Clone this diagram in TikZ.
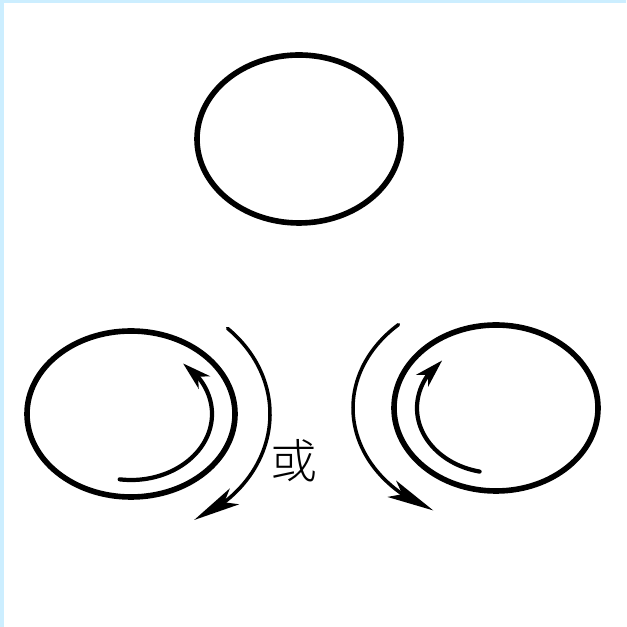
\documentclass[tikz,border=0pt]{standalone}
\usepackage{fontspec}
\newfontfamily\cjk{Noto Sans CJK SC Light}
\usetikzlibrary{arrows.meta,bending}
\definecolor{framecol}{RGB}{204,238,255}
\begin{document}
\begin{tikzpicture}[x=0.03cm, y=0.03cm, line join = round, line cap = round]
	\tikzset{ring/.style={line width=4.8pt},
		spin/.style={line width=3.6pt,-{Stealth[length=8.5mm,width=5mm,inset=2.5mm]}},
		swing/.style={line width=3pt,-{Stealth[length=14mm,width=5.5mm,inset=3.5mm]}}}
	\useasboundingbox (0,0) rectangle (626,627);
	\fill[framecol] (0,0) rectangle (3.5,627);
	\fill[framecol] (0,623.5) rectangle (626,627);
	\path (299,488) coordinate (T)
	(131,213) coordinate (L)
	(496,219) coordinate (R)
	;
	\draw[ring] (T) ellipse [x radius=102, y radius=84];
	\draw[ring] (L) ellipse [x radius=104, y radius=83];
	\draw[ring] (R) ellipse [x radius=102, y radius=83];
	% left: turning round its own centre, or round the outside
	\draw[spin] (L) ++(-98:81 and 66) arc [start angle=-98, end angle=50, x radius=81, y radius=66];
	\draw[swing] (L) ++(46:139 and 119) arc [start angle=46, end angle=-63, x radius=139, y radius=119];
	% right: the same, the other way round
	\draw[spin] (R) ++(258:79 and 65) arc [start angle=258, end angle=133, x radius=79, y radius=65];
	\draw[swing] (R) ++(133:143 and 114) arc [start angle=133, end angle=244, x radius=143, y radius=114];
	\node[font=\cjk\fontsize{40}{40}\selectfont] (or) at (294,166) {或};
\end{tikzpicture}
\end{document}
